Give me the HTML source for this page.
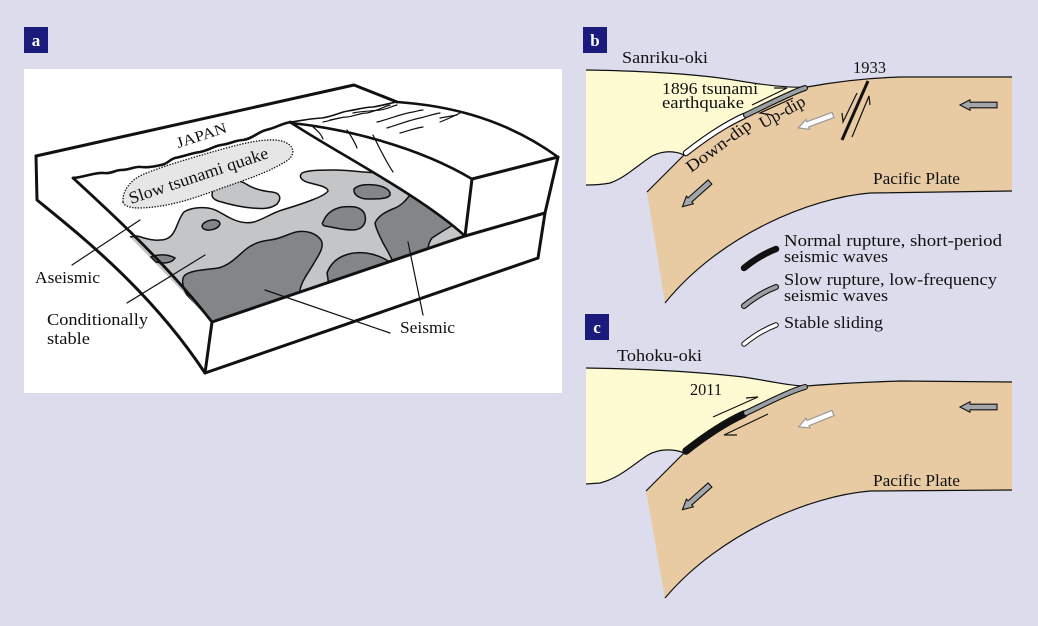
<!DOCTYPE html>
<html><head><meta charset="utf-8"><style>
html,body{margin:0;padding:0;background:#dcdcec;}
svg{display:block;}
text{font-family:"Liberation Serif",serif;fill:#111;}
</style></head><body>
<svg width="1038" height="626" viewBox="0 0 1038 626" xmlns="http://www.w3.org/2000/svg">
<defs>
<clipPath id="plane"><path d="M73,178 C85,177 95,172 104,173 C112,174 115,170 121,170 C130,170 135,166 141,167 C150,168 155,166 161,165 C168,164 170,159 175,158 C185,156 192,153 200,152 C210,150 214,146 221,145 C230,144 236,140 243,140 C252,139 258,132 266,130 C275,128 283,123 291,122 C335,152 420,195 465,236 L212,322 L73,178 Z"/></clipPath>
</defs>
<rect width="1038" height="626" fill="#dcdcec"/>
<!-- panel a -->
<rect x="24" y="69" width="538" height="324" fill="#fff"/>
<rect x="24" y="27" width="24" height="26" fill="#1b1b7d"/>
<text x="36" y="46" text-anchor="middle" font-size="17" font-weight="bold" style="fill:#fff">a</text>

<g clip-path="url(#plane)">
<path d="M137,236 C145,238 152,241 160,240 C168,240 172,236 175,230 C178,224 180,216 184,212 C190,208 200,207 208,208 C216,209 222,214 230,218 C238,222 246,224 254,222 C264,219 272,213 282,210 C292,207 302,204 312,200 C320,197 326,194 328,191 C328,187 318,185 310,183 C302,181 298,177 302,173 C308,170 322,170 335,170 C350,170 365,173 385,173 L420,170 L490,240 L300,310 L200,340 L110,240 Z" fill="#c3c5c7" stroke="#111" stroke-width="1.5"/>
<path d="M212,195 C212,189 218,184 226,182 C234,180 240,180 246,184 C252,188 262,191 272,192 C280,193 282,198 277,204 C271,209 262,209 252,208 C240,207 228,204 218,201 C213,199 212,197 212,195 Z" fill="#c3c5c7" stroke="#111" stroke-width="1.5"/>
<g fill="#828688" stroke="#111" stroke-width="1.5">
<ellipse cx="211" cy="225" rx="9" ry="4.8" transform="rotate(-12 211 225)"/>
<path d="M185,275 C192,270 205,270 218,268 C228,266 236,258 245,250 C252,244 260,241 270,240 C280,239 288,234 296,232 C306,230 316,233 321,240 C325,247 318,256 314,263 C309,272 302,280 300,290 L300,300 L212,325 L200,312 C192,303 184,293 183,285 C182,280 183,277 185,275 Z"/>
<path d="M323,222 C326,214 332,209 342,207 C352,206 362,206 365,215 C367,224 362,230 352,230 C342,230 332,227 325,226 C322,225 322,223 323,222 Z"/>
<path d="M354,189 C358,185 366,184 375,185 C384,186 391,190 390,195 C388,199 378,199 368,199 C360,199 353,195 354,189 Z"/>
<path d="M327,273 C330,265 336,259 343,256 C350,253 358,252 366,253 C374,254 382,257 390,262 L395,275 L330,292 Z"/>
<path d="M375,223 C378,216 385,212 395,208 C402,205 406,200 410,195 L440,185 L453,225 C446,229 438,234 432,238 C429,242 428,246 428,250 L393,262 C390,255 386,248 383,243 C380,236 376,230 375,223 Z"/>
<path d="M151,257 C158,254 168,254 175,258 C172,263 164,264 156,262 Z"/>
</g>
</g>
<!-- slow tsunami blob -->
<path d="M123,202 C122,192 130,180 142,175 C160,167 185,160 205,154 C230,147 255,139 275,140 C292,141 298,152 288,160 C270,172 245,180 222,188 C195,198 170,207 140,208 C130,208 124,206 123,202 Z" fill="#e6e6e6" stroke="#111" stroke-width="1.3" stroke-dasharray="1.4 1.4"/>
<!-- block outlines -->
<g fill="none" stroke="#111" stroke-linejoin="round" stroke-linecap="round">
<path d="M36,156 L354,85 L397,102" stroke-width="3"/>
<path d="M397,102 C440,105 500,115 558,157" stroke-width="2.6"/>
<path d="M558,157 L472,179 L465,236" stroke-width="3"/>
<path d="M558,157 L545,213 L538,258" stroke-width="3"/>
<path d="M212,322 L465,236 L545,213" stroke-width="3"/>
<path d="M205,373 L538,258" stroke-width="3"/>
<path d="M212,322 L205,373" stroke-width="3"/>
<path d="M36,156 L37,200 C80,235 150,290 205,373" stroke-width="3"/>
<path d="M73,178 C110,212 165,262 212,322" stroke-width="2.8"/>
<path d="M73,178 C85,177 95,172 104,173 C112,174 115,170 121,170 C130,170 135,166 141,167 C150,168 155,166 161,165 C168,164 170,159 175,158 C185,156 192,153 200,152 C210,150 214,146 221,145 C230,144 236,140 243,140 C252,139 258,132 266,130 C275,128 283,123 291,122" stroke-width="2.6"/>
<path d="M290,122 C335,152 420,195 465,236" stroke-width="2.6"/>
<path d="M291,123 C340,128 415,145 472,179" stroke-width="2.6"/>
<path d="M291,122 C305,120 315,118 322,118 C335,116 340,112 348,111 C360,109 365,107 373,107 C385,105 390,103 397,102" stroke-width="1.6"/>
<g stroke-width="1.2">
<path d="M323,122 C333,120 340,117 347,117 C355,116 360,113 367,113 C377,111 383,107 390,105"/>
<path d="M353,113 C363,111 372,111 380,110 C388,109 392,106 397,105"/>
<path d="M377,122 C390,119 400,114 413,112 C418,111 420,110 423,110"/>
<path d="M387,128 C400,124 410,120 420,118 C428,116 434,114 440,113"/>
<path d="M400,133 C408,131 415,128 423,127"/>
<path d="M440,122 C448,119 454,116 460,113"/>
<path d="M440,118 L457,115"/>
<path d="M330,120 L340,118"/>
<path d="M313,127 C318,131 321,134 323,139"/>
<path d="M347,130 C351,136 355,142 357,148"/>
<path d="M373,135 C378,145 385,160 393,172"/>
<path d="M72,265 L140,220"/>
<path d="M127,303 L205,255"/>
<path d="M265,290 L390,333"/>
<path d="M423,315 L408,242"/>
</g>
</g>
<text transform="translate(203,140) rotate(-18)" text-anchor="middle" font-size="15" textLength="52" lengthAdjust="spacingAndGlyphs">JAPAN</text>
<text transform="translate(131,204) rotate(-18.5)" font-size="17" textLength="146" lengthAdjust="spacingAndGlyphs">Slow tsunami quake</text>
<text x="35" y="283" font-size="16.5" textLength="65" lengthAdjust="spacingAndGlyphs">Aseismic</text>
<text x="47" y="325" font-size="16.5" textLength="101" lengthAdjust="spacingAndGlyphs">Conditionally</text>
<text x="47" y="344" font-size="16.5" textLength="43" lengthAdjust="spacingAndGlyphs">stable</text>
<text x="400" y="333" font-size="16.5" textLength="55" lengthAdjust="spacingAndGlyphs">Seismic</text>

<!-- panel b -->
<rect x="583" y="27" width="24" height="26" fill="#1b1b7d"/>
<text x="595" y="46" text-anchor="middle" font-size="17" font-weight="bold" style="fill:#fff">b</text>
<path d="M586,70 C650,71 700,74 740,81 C770,86 790,88 807,87 C790,93 765,106 744,116 C720,127 700,142 684,155 C676,151 664,150 652,156 C638,165 625,178 610,183 C600,185 592,185 586,185 Z" fill="#fefbd3"/>
<path d="M807,87 C840,81 870,78 900,77 L1012,77 L1012,191 L870,193 C810,198 720,235 665,303 L647,192 C660,180 672,165 684,155 C700,142 720,127 744,116 C765,106 790,93 807,87 Z" fill="#e8cba3"/>
<g fill="none" stroke="#111" stroke-width="1.2">
<path d="M586,70 C650,71 700,74 740,81 C770,86 790,88 807,87 C840,81 870,78 900,77 L1012,77"/>
<path d="M684,155 C676,151 664,150 652,156 C638,165 625,178 610,183 C600,185 592,185 586,185"/>
<path d="M1012,191 L870,193 C810,198 720,235 665,303"/>
<path d="M647,192 L684,155"/>
</g>
<g fill="none" stroke-linecap="round">
<path d="M686,153 C700,142 720,127 744,116" stroke="#111" stroke-width="6.5"/>
<path d="M686,153 C700,142 720,127 744,116" stroke="#fff" stroke-width="4.2"/>
<path d="M746,115 C765,106 790,93 805,88" stroke="#111" stroke-width="6"/>
<path d="M746,115 C765,106 790,93 805,88" stroke="#9a9fa3" stroke-width="3.8"/>
</g>
<g fill="none" stroke="#111" stroke-width="1.2">
<path d="M752,105 L787,88 L774,88"/>
<path d="M793,98 L760,113 L772,115"/>
<path d="M868,81 L842,140" stroke-width="3"/>
<path d="M857,93 L843,122 L842,113"/>
<path d="M852,137 L869,96 L870,105"/>
</g>
<g stroke="#111" stroke-width="1.1" fill="#a3a7aa">
<polygon transform="translate(997,105) rotate(180)" points="0,-2.8 27,-2.8 27,-5.2 37,0 27,5.2 27,2.8 0,2.8"/>
<polygon transform="translate(710,182) rotate(138.2)" points="0,-2.8 27,-2.8 27,-5.2 37,0 27,5.2 27,2.8 0,2.8"/>
</g>
<polygon transform="translate(833,115) rotate(159.6)" points="0,-2.8 27,-2.8 27,-5.2 37,0 27,5.2 27,2.8 0,2.8" fill="#fff" stroke="#999" stroke-width="1.2"/>
<text x="622" y="63" font-size="17" textLength="86" lengthAdjust="spacingAndGlyphs">Sanriku-oki</text>
<text x="853" y="73" font-size="17" textLength="33" lengthAdjust="spacingAndGlyphs">1933</text>
<text x="662" y="94" font-size="17" textLength="96" lengthAdjust="spacingAndGlyphs">1896 tsunami</text>
<text x="662" y="108" font-size="17" textLength="82" lengthAdjust="spacingAndGlyphs">earthquake</text>
<text transform="translate(763,129) rotate(-29)" font-size="17" textLength="50" lengthAdjust="spacingAndGlyphs">Up-dip</text>
<text transform="translate(691,173) rotate(-36.5)" font-size="17" textLength="77" lengthAdjust="spacingAndGlyphs">Down-dip</text>
<text x="873" y="184" font-size="17" textLength="87" lengthAdjust="spacingAndGlyphs">Pacific Plate</text>

<!-- legend -->
<g fill="none" stroke-linecap="round">
<path d="M744,268 Q760,255 776,249" stroke="#111" stroke-width="6.5"/>
<path d="M744,306 Q760,293 776,287" stroke="#111" stroke-width="6"/>
<path d="M744,306 Q760,293 776,287" stroke="#9a9fa3" stroke-width="3.8"/>
<path d="M744,344 Q760,331 776,325" stroke="#111" stroke-width="5.5"/>
<path d="M744,344 Q760,331 776,325" stroke="#fff" stroke-width="3.5"/>
</g>
<text x="784" y="246" font-size="17" textLength="218" lengthAdjust="spacingAndGlyphs">Normal rupture, short-period</text>
<text x="784" y="262" font-size="17" textLength="104" lengthAdjust="spacingAndGlyphs">seismic waves</text>
<text x="784" y="285" font-size="17" textLength="213" lengthAdjust="spacingAndGlyphs">Slow rupture, low-frequency</text>
<text x="784" y="301" font-size="17" textLength="104" lengthAdjust="spacingAndGlyphs">seismic waves</text>
<text x="784" y="328" font-size="17" textLength="99" lengthAdjust="spacingAndGlyphs">Stable sliding</text>

<!-- panel c -->
<rect x="585" y="314" width="24" height="26" fill="#1b1b7d"/>
<text x="597" y="333" text-anchor="middle" font-size="17" font-weight="bold" style="fill:#fff">c</text>
<path d="M586,368 C650,369 700,372 743,377 C770,381 790,386 807,386 C790,391 765,404 744,414 C720,425 700,440 684,453 C675,449 660,448 648,455 C635,463 620,478 600,483 L586,484 Z" fill="#fefbd3"/>
<path d="M807,386 C840,383 870,382 900,381 L1012,382 L1012,490 L870,491 C810,496 720,533 665,598 L646,491 C660,478 672,463 684,453 C700,440 720,425 744,414 C765,404 790,391 807,386 Z" fill="#e8cba3"/>
<g fill="none" stroke="#111" stroke-width="1.2">
<path d="M586,368 C650,369 700,372 743,377 C770,381 790,386 807,386 C840,383 870,382 900,381 L1012,382"/>
<path d="M684,453 C675,449 660,448 648,455 C635,463 620,478 600,483 L586,484"/>
<path d="M1012,490 L870,491 C810,496 720,533 665,598"/>
<path d="M646,491 L684,453"/>
</g>
<g fill="none" stroke-linecap="round">
<path d="M686,451 C700,440 720,425 744,414" stroke="#111" stroke-width="7.5"/>
<path d="M746,413 C765,404 790,391 805,387" stroke="#111" stroke-width="6"/>
<path d="M746,413 C765,404 790,391 805,387" stroke="#9a9fa3" stroke-width="3.8"/>
</g>
<g fill="none" stroke="#111" stroke-width="1.2">
<path d="M713,417 L758,397 L746,398"/>
<path d="M768,414 L724,435 L737,435"/>
</g>
<g stroke="#111" stroke-width="1.1" fill="#a3a7aa">
<polygon transform="translate(997,407) rotate(180)" points="0,-2.8 27,-2.8 27,-5.2 37,0 27,5.2 27,2.8 0,2.8"/>
<polygon transform="translate(710,485) rotate(138.2)" points="0,-2.8 27,-2.8 27,-5.2 37,0 27,5.2 27,2.8 0,2.8"/>
</g>
<polygon transform="translate(833,413) rotate(158)" points="0,-2.8 27,-2.8 27,-5.2 37,0 27,5.2 27,2.8 0,2.8" fill="#fff" stroke="#999" stroke-width="1.2"/>
<text x="617" y="361" font-size="17" textLength="85" lengthAdjust="spacingAndGlyphs">Tohoku-oki</text>
<text x="690" y="395" font-size="17" textLength="32" lengthAdjust="spacingAndGlyphs">2011</text>
<text x="873" y="486" font-size="17" textLength="87" lengthAdjust="spacingAndGlyphs">Pacific Plate</text>
</svg>
</body></html>
